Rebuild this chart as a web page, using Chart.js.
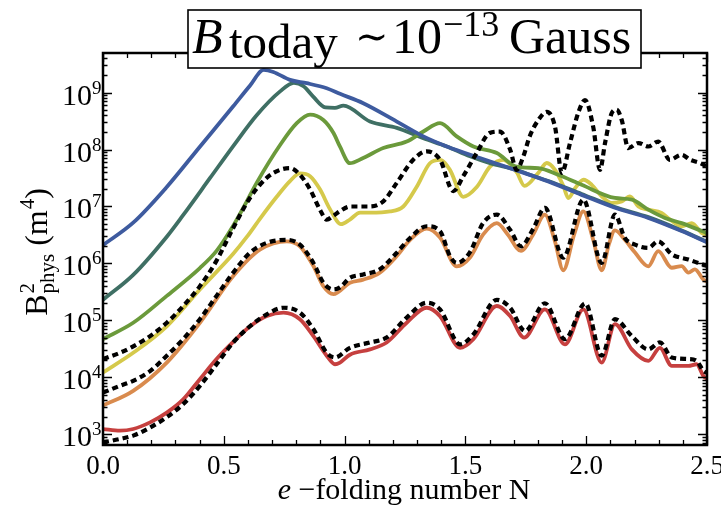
<!DOCTYPE html>
<html>
<head>
<meta charset="utf-8">
<script src="https://cdn.jsdelivr.net/npm/chart.js@4.4.1/dist/chart.umd.min.js"></script>
<style>
  html, body { margin: 0; padding: 0; background: #fff; }
  canvas { display: block; }
</style>
</head>
<body>
<canvas id="chart" width="721" height="508"></canvas>
<script>
// values, y in m^4 (log axis)
const blueX = [0, 0.125, 0.264, 0.401, 0.539, 0.608, 0.665, 0.705, 0.774, 0.843, 0.926, 0.981, 1.077, 1.216, 1.326, 1.423, 1.56, 1.712, 1.843, 1.981, 2.119, 2.257, 2.395, 2.5];
const blueY = [2.1e6, 5.2e6, 2.2e7, 1.12e8, 5.75e8, 1.32e9, 2.5e9, 2.3e9, 1.67e9, 1.46e9, 1.19e9, 9.5e8, 6.5e8, 3.1e8, 1.7e8, 1.13e8, 7.1e7, 4.3e7, 2.76e7, 1.6e7, 9.5e6, 6.3e6, 3.7e6, 2.35e6];

const tealX = [0, 0.125, 0.264, 0.33, 0.444, 0.539, 0.636, 0.733, 0.79, 0.83, 0.87, 0.92, 0.96, 0.995, 1.105, 1.216, 1.326, 1.423, 1.519, 1.602, 1.712, 1.767, 1.843, 1.981, 2.119, 2.257, 2.395, 2.5];
const tealY = [2.3e5, 6.3e5, 2.95e6, 6.9e6, 3.2e7, 1.15e8, 4.0e8, 1.05e9, 1.48e9, 1.29e9, 8.5e8, 5.5e8, 5.4e8, 5.9e8, 3.1e8, 2.4e8, 1.58e8, 1.13e8, 7.6e7, 5.75e7, 4.4e7, 3.6e7, 2.8e7, 1.66e7, 9.8e6, 6.5e6, 3.8e6, 2.4e6];

const greenX = [0, 0.125, 0.264, 0.401, 0.47, 0.539, 0.59, 0.636, 0.733, 0.802, 0.857, 0.912, 0.954, 0.981, 1.022, 1.077, 1.16, 1.257, 1.326, 1.395, 1.464, 1.533, 1.63, 1.712, 1.802, 1.884, 1.981, 2.119, 2.189, 2.257, 2.326, 2.395, 2.479, 2.5];
const greenY = [4.7e4, 9.1e4, 2.7e5, 8.3e5, 1.66e6, 4.6e6, 1.12e7, 2.6e7, 1.2e8, 2.9e8, 4.1e8, 3.3e8, 1.95e8, 1.12e8, 5.75e7, 7.1e7, 1.06e8, 1.38e8, 2.07e8, 2.9e8, 1.7e8, 1.13e8, 8.7e7, 5.0e7, 4.7e7, 3.6e7, 2.4e7, 1.41e7, 1.32e7, 8.8e6, 6.3e6, 5.1e6, 3.7e6, 3.4e6];

const yellowX = [0, 0.125, 0.264, 0.401, 0.539, 0.596, 0.651, 0.719, 0.774, 0.815, 0.857, 0.898, 0.94, 0.985, 1.022, 1.064, 1.105, 1.188, 1.243, 1.298, 1.353, 1.395, 1.436, 1.491, 1.547, 1.602, 1.657, 1.712, 1.745, 1.802, 1.837, 1.871, 1.906, 1.926, 1.954, 1.989, 2.023, 2.064, 2.106, 2.147, 2.181, 2.216, 2.257, 2.312, 2.347, 2.395, 2.437, 2.479, 2.5];
const yellowY = [1.22e4, 2.7e4, 7.9e4, 3.5e5, 1.48e6, 2.95e6, 6.2e6, 1.48e7, 2.8e7, 3.8e7, 3.4e7, 2.0e7, 8.9e6, 4.9e6, 5.9e6, 7.8e6, 7.8e6, 8.2e6, 1.0e7, 2.2e7, 5.75e7, 6.6e7, 4.4e7, 1.48e7, 2.2e7, 5.0e7, 6.6e7, 4.0e7, 2.3e7, 3.9e7, 5.8e7, 4.4e7, 2.26e7, 1.41e7, 2.1e7, 2.95e7, 2.4e7, 1.51e7, 1.16e7, 1.23e7, 1.51e7, 1.0e7, 8.8e6, 7.7e6, 5.9e6, 4.5e6, 5.1e6, 3.4e6, 3.2e6];

const orangeX = [0, 0.125, 0.264, 0.401, 0.539, 0.651, 0.761, 0.815, 0.871, 0.912, 0.954, 1.022, 1.077, 1.146, 1.216, 1.271, 1.34, 1.395, 1.464, 1.519, 1.573, 1.63, 1.676, 1.73, 1.78, 1.829, 1.87, 1.905, 1.95, 1.988, 2.03, 2.064, 2.095, 2.119, 2.16, 2.202, 2.257, 2.298, 2.354, 2.395, 2.423, 2.45, 2.485, 2.5];
const orangeY = [3.2e3, 5.8e3, 1.82e4, 9.1e4, 6.0e5, 1.76e6, 2.45e6, 2.0e6, 9.0e5, 4.0e5, 2.9e5, 4.6e5, 5.2e5, 6.9e5, 1.35e6, 2.6e6, 4.1e6, 2.85e6, 8.9e5, 1.27e6, 3.2e6, 5.1e6, 3.2e6, 1.66e6, 3.2e6, 7.2e6, 2.5e6, 7.6e5, 3.2e6, 8.2e6, 2.5e6, 7.6e5, 2.24e6, 3.8e6, 2.6e6, 1.55e6, 8.9e5, 1.64e6, 8.4e5, 9.0e5, 6.9e5, 7.9e5, 5.2e5, 4.8e5];

const redX = [0, 0.07, 0.125, 0.195, 0.264, 0.332, 0.401, 0.47, 0.539, 0.608, 0.678, 0.747, 0.815, 0.871, 0.926, 0.96, 0.981, 1.022, 1.105, 1.174, 1.257, 1.34, 1.395, 1.478, 1.533, 1.63, 1.685, 1.743, 1.829, 1.912, 1.988, 2.064, 2.119, 2.189, 2.257, 2.305, 2.354, 2.423, 2.457, 2.485, 2.5];
const redY = [1.24e3, 1.16e3, 1.24e3, 1.62e3, 2.4e3, 4.1e3, 9.3e3, 2.1e4, 4.2e4, 7.8e4, 1.19e5, 1.37e5, 1.05e5, 5.3e4, 2.4e4, 1.7e4, 1.82e4, 2.5e4, 3.1e4, 4.1e4, 9.1e4, 1.67e5, 1.19e5, 3.3e4, 4.7e4, 1.79e5, 1.19e5, 5.0e4, 1.56e5, 3.8e4, 1.56e5, 1.82e4, 8.6e4, 3.1e4, 1.95e4, 3.3e4, 1.59e4, 1.59e4, 1.7e4, 1.06e4, 9.5e3];

// dotted comparison curves
const dotLowX = [0, 0.07, 0.125, 0.195, 0.264, 0.332, 0.401, 0.47, 0.539, 0.608, 0.678, 0.747, 0.815, 0.871, 0.926, 0.96, 1.022, 1.105, 1.174, 1.257, 1.34, 1.395, 1.478, 1.533, 1.63, 1.685, 1.747, 1.829, 1.912, 1.996, 2.064, 2.119, 2.189, 2.257, 2.305, 2.354, 2.423, 2.457, 2.485, 2.5];
const dotLowY = [7.2e2, 8.3e2, 9.5e2, 1.32e3, 2.0e3, 3.4e3, 7.1e3, 1.7e4, 4.1e4, 7.9e4, 1.28e5, 1.67e5, 1.37e5, 7.0e4, 2.7e4, 2.24e4, 3.3e4, 4.1e4, 5.0e4, 1.12e5, 2.05e5, 1.56e5, 3.8e4, 5.7e4, 2.3e5, 1.67e5, 6.5e4, 2.0e5, 4.7e4, 2.0e5, 2.4e4, 1.05e5, 5.3e4, 3.1e4, 4.1e4, 2.24e4, 2.1e4, 1.95e4, 1.3e4, 1.2e4];

const dotMidX = [0, 0.07, 0.125, 0.195, 0.264, 0.332, 0.401, 0.47, 0.539, 0.608, 0.678, 0.761, 0.815, 0.871, 0.912, 0.954, 0.981, 1.022, 1.077, 1.146, 1.216, 1.271, 1.34, 1.395, 1.436, 1.464, 1.519, 1.573, 1.63, 1.685, 1.73, 1.78, 1.829, 1.905, 1.988, 2.064, 2.119, 2.16, 2.202, 2.257, 2.298, 2.354, 2.423, 2.485, 2.5];
const dotMidY = [5.4e3, 7.1e3, 8.7e3, 1.29e4, 2.4e4, 4.7e4, 1.05e5, 2.7e5, 6.9e5, 1.54e6, 2.3e6, 2.6e6, 2.14e6, 1.02e6, 4.6e5, 3.5e5, 3.8e5, 5.6e5, 6.4e5, 7.9e5, 1.54e6, 2.8e6, 4.5e6, 3.7e6, 1.35e6, 1.02e6, 1.58e6, 5.1e6, 7.2e6, 3.9e6, 2.0e6, 4.0e6, 9.5e6, 1.26e6, 1.32e7, 1.02e6, 7.2e6, 2.8e6, 2.14e6, 1.88e6, 2.45e6, 1.45e6, 1.17e6, 9.5e5, 9.1e5];

const dotHighX = [0, 0.07, 0.125, 0.195, 0.264, 0.332, 0.401, 0.47, 0.539, 0.608, 0.678, 0.733, 0.774, 0.815, 0.857, 0.898, 0.926, 0.954, 0.981, 1.022, 1.105, 1.16, 1.216, 1.284, 1.34, 1.395, 1.45, 1.491, 1.547, 1.6, 1.643, 1.685, 1.712, 1.74, 1.766, 1.802, 1.837, 1.871, 1.899, 1.933, 1.967, 1.995, 2.029, 2.057, 2.078, 2.106, 2.126, 2.147, 2.174, 2.216, 2.257, 2.298, 2.346, 2.395, 2.43, 2.471, 2.5];
const dotHighY = [2.1e4, 2.7e4, 3.5e4, 5.3e4, 9.1e4, 1.79e5, 4.0e5, 1.12e6, 4.2e6, 1.41e7, 3.2e7, 4.4e7, 4.7e7, 3.6e7, 2.0e7, 8.8e6, 5.9e6, 6.9e6, 8.3e6, 1.0e7, 1.0e7, 1.23e7, 2.6e7, 6.6e7, 9.3e7, 6.6e7, 1.86e7, 3.4e7, 8.7e7, 1.95e8, 2.07e8, 1.0e8, 4.4e7, 7.6e7, 1.7e8, 3.3e8, 4.6e8, 2.5e8, 3.9e7, 1.3e8, 4.4e8, 7.4e8, 2.5e8, 4.4e7, 1.3e8, 4.4e8, 5.0e8, 3.3e8, 1.06e8, 1.3e8, 1.13e8, 1.38e8, 6.6e7, 8.1e7, 6.6e7, 5.8e7, 5.0e7];

const xLabels = ["0.0", "0.5", "1.0", "1.5", "2.0", "2.5"];
const yDecades = [3, 4, 5, 6, 7, 8, 9];

const SERIF = "'Liberation Serif', 'DejaVu Serif', serif";

function pts(xs, ys) {
  return xs.map((x, i) => ({ x: x, y: ys[i] }));
}

function solid(data, color) {
  return { data: data, borderColor: color, borderWidth: 3.8, fill: false };
}
function dotted(data) {
  return { data: data, borderColor: "#000", borderWidth: 4.2, borderDash: [6, 4], fill: false };
}

// first dataset is painted last (on top)
const datasets = [
  dotted(pts(dotHighX, dotHighY)),
  dotted(pts(dotMidX, dotMidY)),
  dotted(pts(dotLowX, dotLowY)),
  solid(pts(blueX, blueY), "#3e5b9f"),
  solid(pts(greenX, greenY), "#6b9a3b"),
  solid(pts(tealX, tealY), "#3f6f64"),
  solid(pts(yellowX, yellowY), "#d5c94b"),
  solid(pts(orangeX, orangeY), "#d98b4e"),
  solid(pts(redX, redY), "#c6403f"),
];

const decor = {
  id: "decor",
  afterDraw(chart) {
    const { ctx, chartArea: a, scales } = chart;
    const xs = scales.x, ys = scales.y;
    ctx.save();
    ctx.strokeStyle = "#000";
    ctx.fillStyle = "#000";

    // inward ticks, x every 0.1
    ctx.lineWidth = 1.3;
    ctx.beginPath();
    for (let i = 0; i <= 25; i++) {
      const px = Math.round(xs.getPixelForValue(i / 10)) + 0.5;
      const len = i % 5 === 0 ? 9 : 5;
      ctx.moveTo(px, a.bottom); ctx.lineTo(px, a.bottom - len);
      ctx.moveTo(px, a.top); ctx.lineTo(px, a.top + len);
    }
    // y: 1..9 x 10^n
    for (let e = 2; e <= 9; e++) {
      for (let m = 1; m <= 9; m++) {
        const v = m * Math.pow(10, e);
        if (v < ys.min || v > ys.max) continue;
        const py = Math.round(ys.getPixelForValue(v)) + 0.5;
        const len = m === 1 ? 9 : 4.5;
        ctx.moveTo(a.left, py); ctx.lineTo(a.left + len, py);
        ctx.moveTo(a.right, py); ctx.lineTo(a.right - len, py);
      }
    }
    ctx.stroke();

    // frame
    ctx.lineWidth = 2.5;
    ctx.strokeRect(a.left, a.top, a.right - a.left, a.bottom - a.top);

    // x tick labels
    ctx.font = "27px " + SERIF;
    ctx.textAlign = "center";
    ctx.textBaseline = "alphabetic";
    xLabels.forEach((lab, i) => {
      ctx.fillText(lab, xs.getPixelForValue(i * 0.5), a.bottom + 29);
    });

    // y tick labels 10^n
    for (const e of yDecades) {
      const py = ys.getPixelForValue(Math.pow(10, e));
      ctx.font = "30px " + SERIF;
      ctx.textAlign = "right";
      ctx.fillText("10", a.left - 11, py + 12);
      ctx.font = "19px " + SERIF;
      ctx.textAlign = "left";
      ctx.fillText(String(e), a.left - 11, py + 1);
    }

    // x axis title
    ctx.font = "italic 30px " + SERIF;
    ctx.textAlign = "left";
    const t1 = "e";
    const rest = " \u2212folding number N";
    const w1 = ctx.measureText(t1).width;
    ctx.font = "30px " + SERIF;
    const w2 = ctx.measureText(rest).width;
    let sx = 404 - (w1 + w2) / 2;
    ctx.font = "italic 30px " + SERIF;
    ctx.fillText(t1, sx, 499);
    ctx.font = "30px " + SERIF;
    ctx.fillText(rest, sx + w1, 499);

    // y axis title, rotated
    ctx.save();
    ctx.translate(47, 252);
    ctx.rotate(-Math.PI / 2);
    const big = "32px " + SERIF, small = "21px " + SERIF;
    ctx.font = big; const wB = ctx.measureText("B").width;
    ctx.font = small; const wS = ctx.measureText("phys").width;
    ctx.font = big; const wM = ctx.measureText(" (m").width;
    ctx.font = small; const w4 = ctx.measureText("4").width;
    ctx.font = big; const wP = ctx.measureText(")").width;
    let tx = -(wB + wS + wM + w4 + wP + 2) / 2;
    ctx.textAlign = "left";
    ctx.font = big; ctx.fillText("B", tx, 0); tx += wB + 1;
    ctx.font = small; ctx.fillText("2", tx, -13); ctx.fillText("phys", tx, 7); tx += wS;
    ctx.font = big; ctx.fillText(" (m", tx, 0); tx += wM + 1;
    ctx.font = small; ctx.fillText("4", tx, -13); tx += w4;
    ctx.font = big; ctx.fillText(")", tx, 0);
    ctx.restore();

    // boxed title
    ctx.fillStyle = "#fff";
    ctx.fillRect(188, 10, 453, 58);
    ctx.lineWidth = 1.6;
    ctx.strokeRect(188, 10, 453, 58);
    ctx.fillStyle = "#000";
    ctx.textAlign = "left";
    ctx.font = "italic 50px " + SERIF;
    ctx.fillText("B", 192, 53);
    ctx.font = "49px " + SERIF;
    ctx.fillText("today", 229, 58);
    ctx.font = "40px 'DejaVu Serif', serif";
    ctx.fillText("\u223C", 355, 50);
    ctx.font = "50px " + SERIF;
    ctx.fillText("10", 392, 53);
    ctx.font = "36px " + SERIF;
    ctx.fillText("\u221213", 443, 36);
    ctx.font = "50px " + SERIF;
    ctx.fillText("Gauss", 509, 53);

    ctx.restore();
  }
};

new Chart(document.getElementById("chart").getContext("2d"), {
  type: "line",
  data: { datasets: datasets },
  options: {
    responsive: false,
    animation: false,
    devicePixelRatio: 1,
    layout: { padding: { top: 53, right: 14, left: 0, bottom: 0 } },
    elements: {
      point: { radius: 0 },
      line: { cubicInterpolationMode: "monotone", borderCapStyle: "butt" },
    },
    plugins: {
      legend: { display: false },
      tooltip: { enabled: false },
      title: { display: false },
    },
    scales: {
      x: {
        type: "linear",
        min: 0,
        max: 2.5,
        grid: { display: false },
        border: { display: false },
        ticks: { display: false },
        afterFit: (s) => { s.height = 63; },
      },
      y: {
        type: "logarithmic",
        min: 650,
        max: 4.95e9,
        grid: { display: false },
        border: { display: false },
        ticks: { display: false },
        afterFit: (s) => { s.width = 103; },
      },
    },
  },
  plugins: [decor],
});
</script>
</body>
</html>
